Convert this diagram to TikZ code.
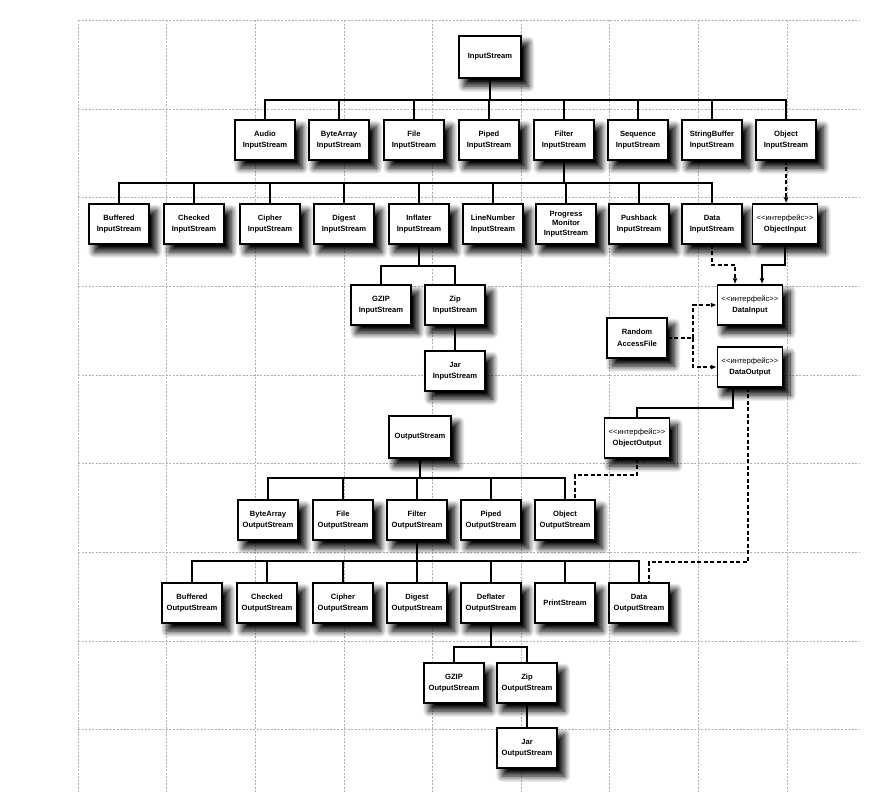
\documentclass[tikz,border=0pt]{standalone}
\usepackage{fontspec}
\setmainfont{Liberation Sans}
\usetikzlibrary{arrows.meta,shadows.blur,calc}
\begin{document}
\begin{tikzpicture}[x=1pt,y=-1pt,
  box/.style={draw,line width=1.5pt,fill=white,minimum width=60pt,minimum height=40pt,inner sep=1pt,align=center,
    font=\fontsize{7.6}{11.5}\selectfont\bfseries,
    blur shadow={shadow xshift=6pt,shadow yshift=-7pt,shadow opacity=100,shadow blur radius=6pt,shadow blur steps=12,shadow scale=1.04}},
  wide/.style={box,minimum width=65pt},
  tree/.style={line width=1.4pt},
  dashln/.style={line width=1.5pt,dash pattern=on 4pt off 2.5pt},
  arr/.style={-{Latex[length=6pt,width=5pt]}},
  gridline/.style={gray!60,line width=0.4pt,dash pattern=on 2pt off 1.5pt}]
\useasboundingbox (0,0) rectangle (894,793);
% background grid
\foreach \k in {0,...,8} {\draw[gridline] (78+88.6*\k,20) -- (78+88.6*\k,793);}
\foreach \k in {0,...,8} {\draw[gridline] (78,20+88.7*\k) -- (860,20+88.7*\k);}
\newcommand{\ifc}{{\mdseries<{}<интерфейс>{}>}}
% input hierarchy
\node[box,minimum width=62pt,minimum height=42pt] (is) at (490,57) {InputStream};
\node[box] (aud) at (265,140) {Audio\\InputStream};
\node[box] (bya) at (339,140) {ByteArray\\InputStream};
\node[box] (fil) at (414,140) {File\\InputStream};
\node[box] (pip) at (489,140) {Piped\\InputStream};
\node[box] (flt) at (564,140) {Filter\\InputStream};
\node[box] (seq) at (638,140) {Sequence\\InputStream};
\node[box] (sbf) at (712,140) {StringBuffer\\InputStream};
\node[box] (obj) at (786,140) {Object\\InputStream};
\node[box] (buf) at (119,224) {Buffered\\InputStream};
\node[box] (chk) at (194,224) {Checked\\InputStream};
\node[box] (cip) at (270,224) {Cipher\\InputStream};
\node[box] (dig) at (344,224) {Digest\\InputStream};
\node[box] (inf) at (419,224) {Inflater\\InputStream};
\node[box] (lin) at (493,224) {LineNumber\\InputStream};
\node[box,font=\fontsize{7.6}{9.5}\selectfont\bfseries] (prg) at (566,224) {Progress\\Monitor\\InputStream};
\node[box] (psh) at (639,224) {Pushback\\InputStream};
\node[box] (dat) at (712,224) {Data\\InputStream};
\node[wide] (oin) at (785,224) {\ifc\\ObjectInput};
\node[box] (gzi) at (381,305) {GZIP\\InputStream};
\node[box] (zpi) at (455,305) {Zip\\InputStream};
\node[box] (jri) at (455,371) {Jar\\InputStream};
\node[wide] (di) at (750,305) {\ifc\\DataInput};
\node[wide] (do) at (750,367) {\ifc\\DataOutput};
\node[box] (rnd) at (637,338) {Random\\AccessFile};
% output hierarchy
\node[box,minimum width=62pt,minimum height=42pt] (os) at (420,437) {OutputStream};
\node[wide] (oo) at (637,438) {\ifc\\ObjectOutput};
\node[box] (oba) at (268,520) {ByteArray\\OutputStream};
\node[box] (ofi) at (343,520) {File\\OutputStream};
\node[box] (oft) at (417,520) {Filter\\OutputStream};
\node[box] (opi) at (491,520) {Piped\\OutputStream};
\node[box] (oob) at (565,520) {Object\\OutputStream};
\node[box] (obu) at (192,603) {Buffered\\OutputStream};
\node[box] (och) at (267,603) {Checked\\OutputStream};
\node[box] (oci) at (343,603) {Cipher\\OutputStream};
\node[box] (odi) at (417,603) {Digest\\OutputStream};
\node[box] (ode) at (491,603) {Deflater\\OutputStream};
\node[box] (opr) at (565,603) {PrintStream};
\node[box] (oda) at (639,603) {Data\\OutputStream};
\node[box] (ogz) at (454,683) {GZIP\\OutputStream};
\node[box] (ozp) at (527,683) {Zip\\OutputStream};
\node[box] (ojr) at (527,748) {Jar\\OutputStream};
% bus levels
\coordinate (b1) at (0,100);
\coordinate (b2) at (0,183);
\coordinate (b3) at (0,266);
\coordinate (b4) at (0,478);
\coordinate (b5) at (0,561);
\coordinate (b6) at (0,647);
\foreach \c in {aud,bya,fil,pip,flt,seq,sbf,obj} {\draw[tree] (is.south) -- (is.south |- b1) -| (\c.north);}
\foreach \c in {buf,chk,cip,dig,inf,lin,prg,psh,dat} {\draw[tree] (flt.south) -- (flt.south |- b2) -| (\c.north);}
\foreach \c in {gzi,zpi} {\draw[tree] (inf.south) -- (inf.south |- b3) -| (\c.north);}
\draw[tree] (zpi) -- (jri);
\foreach \c in {oba,ofi,oft,opi,oob} {\draw[tree] (os.south) -- (os.south |- b4) -| (\c.north);}
\foreach \c in {obu,och,oci,odi,ode,opr,oda} {\draw[tree] (oft.south) -- (oft.south |- b5) -| (\c.north);}
\foreach \c in {ogz,ozp} {\draw[tree] (ode.south) -- (ode.south |- b6) -| (\c.north);}
\draw[tree] (ozp) -- (ojr);
% interface links
\draw[dashln,arr] (obj.south) -- (obj.south |- oin.north);
\coordinate (j1) at (735,265);
\draw[dashln,arr] (dat.south) |- (j1) -- (j1 |- di.north);
\coordinate (j2) at (762,265);
\draw[tree,arr] (oin.south) |- (j2) -- (j2 |- di.north);
\coordinate (j5) at (693,338);
\draw[dashln] (rnd.east) -- (j5);
\draw[dashln,arr] (j5) |- (di.west);
\draw[dashln,arr] (j5) |- (do.west);
\coordinate (j3) at (637,408);
\draw[tree] ([xshift=-17pt]do.south) |- (j3) -- (oo.north);
\coordinate (j4) at (649,562);
\draw[dashln] ([xshift=-2pt]do.south) |- (j4) -- (j4 |- oda.north);
\coordinate (j6) at (575,475);
\draw[dashln] (oo.south) |- (j6) -- (j6 |- oob.north);
\end{tikzpicture}
\end{document}
